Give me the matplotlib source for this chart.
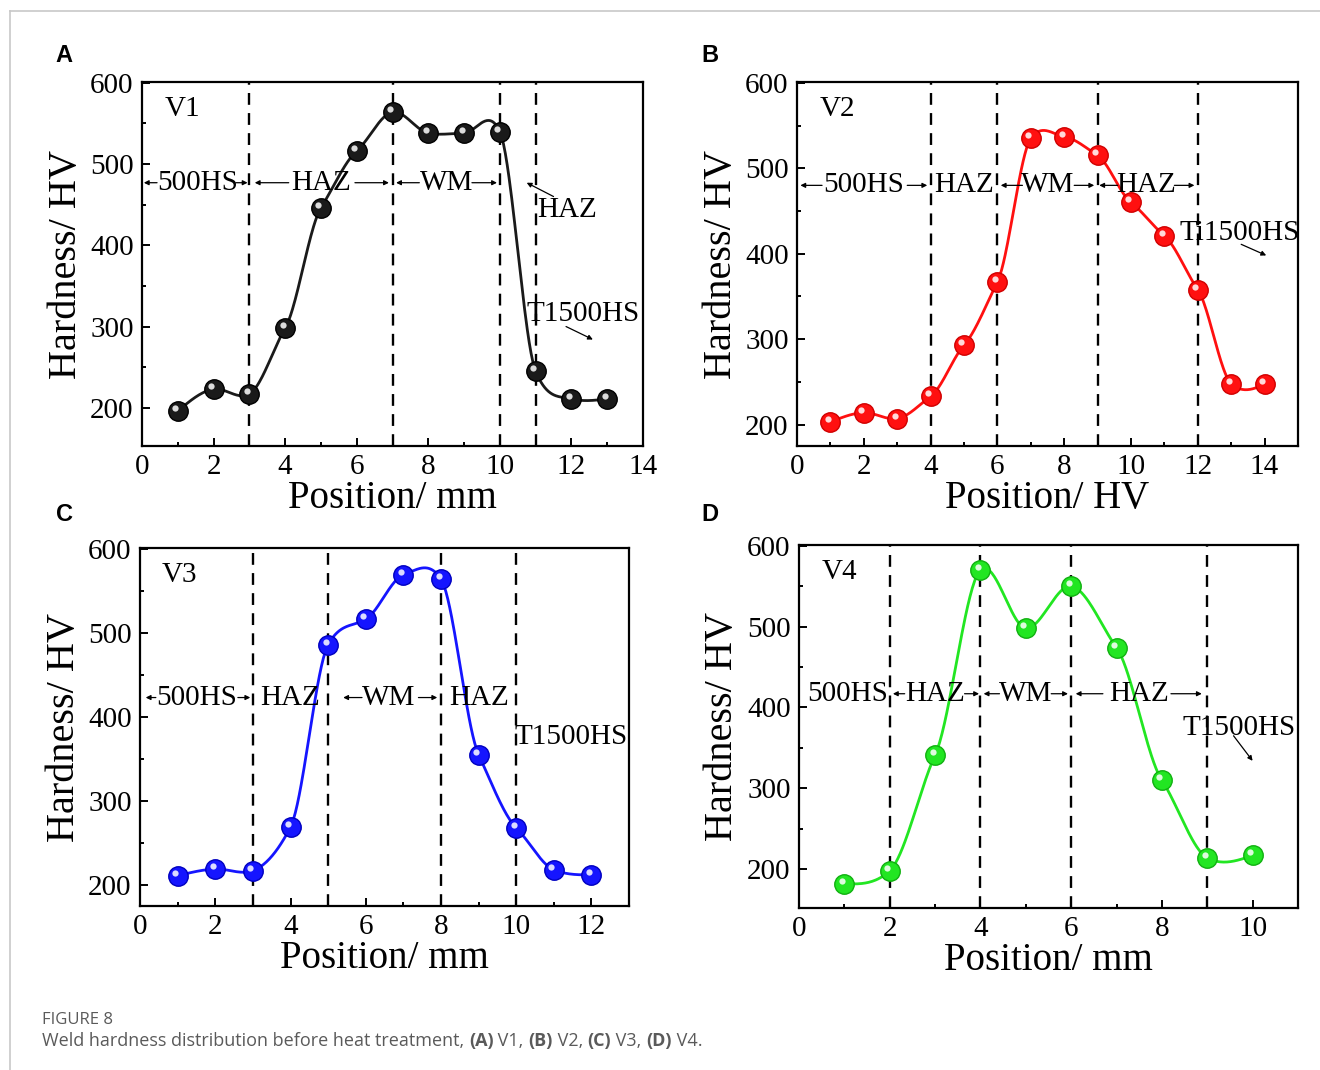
import numpy as np
import matplotlib
matplotlib.use("Agg")
import matplotlib.pyplot as plt
import matplotlib.transforms as mtransforms
from matplotlib.lines import Line2D
from matplotlib.ticker import MultipleLocator

plt.rcParams['font.family'] = ['Liberation Serif', 'DejaVu Serif']

# ---- data ----
pos_a = [1, 2, 3, 4, 5, 6, 7, 8, 9, 10, 11, 12, 13]
hv_a = [196, 223, 217, 298, 446, 516, 564, 538, 538, 540, 245, 211, 211]
lines_a = [3, 7, 10, 11]

pos_b = [1, 2, 3, 4, 5, 6, 7, 8, 9, 10, 11, 12, 13, 14]
hv_b = [203, 214, 207, 233, 293, 367, 535, 537, 515, 460, 421, 358, 248, 247]
lines_b = [4, 6, 9, 12]

pos_c = [1, 2, 3, 4, 5, 6, 7, 8, 9, 10, 11, 12]
hv_c = [211, 219, 217, 269, 486, 516, 569, 564, 355, 268, 218, 212]
lines_c = [3, 5, 8, 10]

pos_d = [1, 2, 3, 4, 5, 6, 7, 8, 9, 10]
hv_d = [182, 198, 341, 570, 498, 550, 474, 310, 214, 217]
lines_d = [2, 4, 6, 9]


def smooth(x, y, k=0.65, n=40):
    # cardinal (tension) spline through the points, natural ends
    x = np.asarray(x, float)
    y = np.asarray(y, float)
    m = np.zeros(len(y))
    m[1:-1] = k * (y[2:] - y[:-2]) / 2
    m[0] = (3 * (y[1] - y[0]) - m[1]) / 2
    m[-1] = (3 * (y[-1] - y[-2]) - m[-2]) / 2
    xs, ys = [], []
    t = np.linspace(0, 1, n)
    h00 = 2 * t**3 - 3 * t**2 + 1
    h10 = t**3 - 2 * t**2 + t
    h01 = -2 * t**3 + 3 * t**2
    h11 = t**3 - t**2
    for i in range(len(x) - 1):
        xs.append(x[i] + t * (x[i + 1] - x[i]))
        ys.append(h00 * y[i] + h10 * m[i] + h01 * y[i + 1] + h11 * m[i + 1])
    return np.concatenate(xs), np.concatenate(ys)


fig = plt.figure(figsize=(13.2, 10.7), dpi=100)


def panel(rect, x, y, vlines, color, edge, xlim, ylim, xmax_lab, name, xlabel):
    ax = fig.add_axes(rect)
    xs, ys = smooth(x, y)
    ax.plot(xs, ys, color=color, lw=2.0, zorder=3)
    for v in vlines:
        ax.axvline(v, color='k', ls=(0, (5, 3.5)), lw=1.7, zorder=2)
    ax.plot(x, y, 'o', ms=14, mfc=color, mec=edge, mew=1.0, zorder=4)
    hl = mtransforms.offset_copy(ax.transData, fig=fig, x=-2.5, y=3, units='dots')
    ax.plot(x, y, 'o', ms=4.5, mfc='white', mec='none', alpha=0.85,
            transform=hl, zorder=5)
    ax.set_xlim(*xlim)
    ax.set_ylim(*ylim)
    ax.set_xticks(range(0, xmax_lab + 1, 2))
    ax.xaxis.set_minor_locator(MultipleLocator(1))
    ax.set_yticks([200, 300, 400, 500, 600])
    ax.yaxis.set_minor_locator(MultipleLocator(50))
    ax.tick_params(which='both', direction='in', width=1.4, labelsize=21, pad=6)
    ax.tick_params(which='major', length=6)
    ax.tick_params(which='minor', length=3)
    for s in ax.spines.values():
        s.set_linewidth(1.6)
    ax.set_xlabel(xlabel, fontsize=28, labelpad=0)
    ax.set_ylabel('Hardness/ HV', fontsize=29, labelpad=4)
    ax.text(0.045, 0.925, name, transform=ax.transAxes, fontsize=21,
            va='center', ha='left')
    return ax


def zones(ax, yl, labels, arrows):
    for txt, xc in labels:
        ax.text(xc, yl, txt, fontsize=21, ha='center', va='center', zorder=6)
    for x0, x1 in arrows:
        ax.annotate('', xy=(x1, yl), xytext=(x0, yl),
                    arrowprops=dict(arrowstyle='-|>', lw=0.9, color='k',
                                    mutation_scale=7, shrinkA=0, shrinkB=0))


def pointer(ax, x0, y0, x1, y1):
    ax.annotate('', xy=(x1, y1), xytext=(x0, y0),
                arrowprops=dict(arrowstyle='-|>', lw=0.9, color='k',
                                mutation_scale=7, shrinkA=0, shrinkB=0))


# A
ax = panel([0.1076, 0.5832, 0.3795, 0.3402], pos_a, hv_a, lines_a, '#1a1a1a', 'black',
           (0, 14), (153, 601), 14, 'V1', 'Position/ mm')
zones(ax, 477, [('500HS', 1.55), ('HAZ', 5.0), ('WM', 8.5)],
      [(0.42, 0.05), (2.62, 2.95), (4.1, 3.15), (5.95, 6.9), (7.75, 7.1), (9.22, 9.92)])
ax.text(11.05, 443, 'HAZ', fontsize=21, ha='left', va='center')
pointer(ax, 11.5, 460, 10.75, 477)
ax.text(10.75, 316, 'T1500HS', fontsize=21, ha='left', va='center')
pointer(ax, 11.85, 300, 12.6, 284)

# B
ax = panel([0.6038, 0.5832, 0.3795, 0.3402], pos_b, hv_b, lines_b, '#ff1010', '#d00000',
           (0, 15), (175, 601), 14, 'V2', 'Position/ HV')
zones(ax, 480, [('500HS', 2.0), ('HAZ', 5.0), ('WM', 7.5), ('HAZ', 10.45)],
      [(0.75, 0.1), (3.3, 3.9), (6.75, 6.1), (8.3, 8.9), (9.6, 9.05), (11.3, 11.9)])
ax.text(11.45, 424, 'Ti1500HS', fontsize=21, ha='left', va='center')
pointer(ax, 13.3, 411, 14.05, 398)

# C
ax = panel([0.1061, 0.1533, 0.3705, 0.3346], pos_c, hv_c, lines_c, '#1515ff', '#0000c0',
           (0, 13), (175, 601), 12, 'V3', 'Position/ mm')
zones(ax, 423, [('500HS', 1.5), ('HAZ', 4.0), ('WM', 6.6), ('HAZ', 9.0)],
      [(0.42, 0.15), (2.6, 2.93), (5.9, 5.4), (7.4, 7.9)])
ax.text(9.95, 376, 'T1500HS', fontsize=21, ha='left', va='center')

# D
ax = panel([0.6053, 0.1514, 0.378, 0.3393], pos_d, hv_d, lines_d, '#22e622', '#10b010',
           (0, 11), (152, 601), 10, 'V4', 'Position/ mm')
zones(ax, 417, [('500HS', 1.08), ('HAZ', 3.0), ('WM', 5.0), ('HAZ', 7.5)],
      [(2.33, 2.07), (3.65, 3.97), (4.42, 4.07), (5.56, 5.93), (6.7, 6.1), (8.2, 8.88)])
ax.text(8.45, 374, 'T1500HS', fontsize=21, ha='left', va='center')
pointer(ax, 9.58, 365, 10.0, 334)

# panel letters
for lab, fx, fy in [('A', 0.0485, 0.9477), ('B', 0.538, 0.9477),
                    ('C', 0.0485, 0.5187), ('D', 0.538, 0.5187)]:
    fig.text(fx, fy, lab, fontsize=17, fontweight='bold', family='Liberation Sans',
             ha='center', va='center')

# frame lines
fig.add_artist(Line2D([10 / 1320, 1], [1 - 11 / 1070, 1 - 11 / 1070],
                      transform=fig.transFigure, color='#c8c8c8', lw=1.2))
fig.add_artist(Line2D([10 / 1320, 10 / 1320], [0, 1 - 11 / 1070],
                      transform=fig.transFigure, color='#c8c8c8', lw=1.2))

# caption
fig.text(42 / 1320, 1 - 1020 / 1070, 'FIGURE 8', va='center', ha='left',
         family='Open Sans', fontsize=12, color='#5a5a5a')
parts = [('Weld hardness distribution before heat treatment, ', 'normal'),
         ('(A)', 'bold'), (' V1, ', 'normal'), ('(B)', 'bold'), (' V2, ', 'normal'),
         ('(C)', 'bold'), (' V3, ', 'normal'), ('(D)', 'bold'), (' V4.', 'normal')]
renderer = fig.canvas.get_renderer()
xpix = 42
ybase = 1 - 1046 / 1070
for t, w in parts:
    tx = fig.text(xpix / 1320, ybase, t, va='baseline', ha='left', fontweight=w,
                  family='Open Sans', fontsize=13, color='#5a5a5a')
    xpix = tx.get_window_extent(renderer).x1

fig.savefig('out.png', dpi=100)
